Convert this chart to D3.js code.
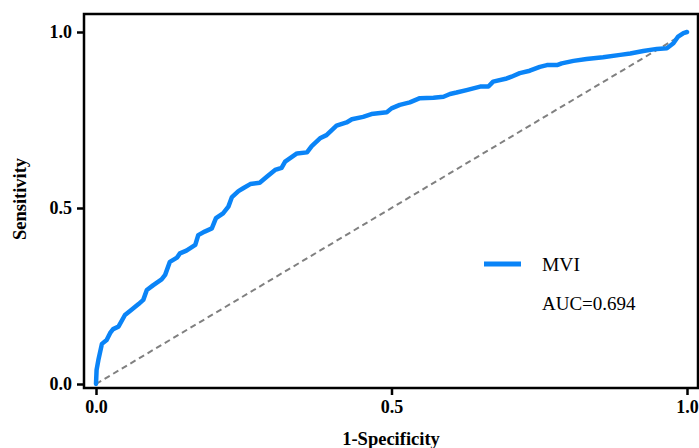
<!DOCTYPE html>
<html>
<head>
<meta charset="utf-8">
<script src="https://cdn.jsdelivr.net/npm/d3@7"></script>
<style>
  body { margin: 0; background: #fff; }
  svg { display: block; font-family: "Times New Roman", "Liberation Serif", serif; }
  .tick line { stroke: #000; stroke-width: 2.5; }
</style>
</head>
<body>
<script>
// ROC curve points (1-specificity, sensitivity)
var fpr = [0, 0.001, 0.004, 0.010, 0.018, 0.024, 0.029, 0.038, 0.049, 0.058,
    0.072, 0.080, 0.086, 0.097, 0.111, 0.117, 0.125, 0.137, 0.142, 0.153,
    0.168, 0.173, 0.184, 0.196, 0.203, 0.215, 0.224, 0.230, 0.241, 0.249,
    0.261, 0.277, 0.289, 0.303, 0.314, 0.320, 0.340, 0.357, 0.365, 0.379,
    0.390, 0.407, 0.424, 0.433, 0.452, 0.466, 0.492, 0.500, 0.514, 0.531,
    0.548, 0.571, 0.588, 0.599, 0.610, 0.627, 0.650, 0.664, 0.672, 0.695,
    0.703, 0.717, 0.734, 0.751, 0.763, 0.780, 0.788, 0.808, 0.830, 0.858,
    0.887, 0.904, 0.926, 0.949, 0.966, 0.977, 0.985, 0.994, 1];
var tpr = [0, 0.040, 0.068, 0.114, 0.125, 0.145, 0.156, 0.163, 0.196, 0.208,
    0.227, 0.239, 0.267, 0.281, 0.297, 0.310, 0.347, 0.359, 0.371, 0.379,
    0.395, 0.423, 0.433, 0.442, 0.471, 0.485, 0.504, 0.531, 0.548, 0.556,
    0.568, 0.572, 0.589, 0.608, 0.614, 0.632, 0.655, 0.658, 0.676, 0.698,
    0.707, 0.734, 0.743, 0.752, 0.759, 0.767, 0.772, 0.783, 0.793, 0.800,
    0.812, 0.813, 0.816, 0.824, 0.828, 0.835, 0.845, 0.845, 0.859, 0.868,
    0.873, 0.883, 0.890, 0.901, 0.906, 0.906, 0.911, 0.918, 0.923, 0.928,
    0.935, 0.939, 0.946, 0.952, 0.954, 0.968, 0.987, 0.997, 1];
var tickValues = [0, 0.5, 1];
var seriesName = "MVI";
var aucText = "AUC=0.694";

var width = 699, height = 448;
var serif = "'Times New Roman', 'Liberation Serif', serif";

var svg = d3.select("body")
    .append("svg")
    .attr("width", width)
    .attr("height", height);

//scales: data 0..1 sits inside a slightly larger frame
var xScale = d3.scaleLinear().domain([0, 1]).range([96, 687]);
var yScale = d3.scaleLinear().domain([0, 1]).range([384, 32]);
var frame = { left: 84, right: 698, top: 14, bottom: 388 };

//axes with ticks only, frame drawn as a box
var xAxis = svg.append("g")
    .attr("transform", "translate(0," + frame.bottom + ")")
    .call(d3.axisBottom(xScale).tickValues(tickValues).tickFormat(d3.format(".1f"))
        .tickSize(7).tickPadding(5));
xAxis.select(".domain").remove();

var yAxis = svg.append("g")
    .attr("transform", "translate(" + frame.left + ",0)")
    .call(d3.axisLeft(yScale).tickValues(tickValues).tickFormat(d3.format(".1f"))
        .tickSize(7).tickPadding(5));
yAxis.select(".domain").remove();

svg.selectAll(".tick text")
    .style("font-family", serif)
    .style("font-weight", "bold")
    .style("font-size", "18px")
    .style("fill", "#000");

svg.append("rect")
    .attr("x", frame.left)
    .attr("y", frame.top)
    .attr("width", frame.right - frame.left)
    .attr("height", frame.bottom - frame.top)
    .attr("fill", "none")
    .attr("stroke", "#000")
    .attr("stroke-width", 2.5);

//reference diagonal
svg.append("line")
    .attr("x1", xScale(0)).attr("y1", yScale(0))
    .attr("x2", xScale(1)).attr("y2", yScale(1))
    .attr("stroke", "#808080")
    .attr("stroke-width", 2)
    .attr("stroke-dasharray", "6,4");

//roc curve
var points = fpr.map(function (d, i) { return [d, tpr[i]]; });
var line = d3.line()
    .x(function (d) { return xScale(d[0]); })
    .y(function (d) { return yScale(d[1]); });

svg.append("path")
    .datum(points)
    .attr("d", line)
    .attr("fill", "none")
    .attr("stroke", "#0a84f7")
    .attr("stroke-width", 4.5)
    .attr("stroke-linejoin", "round")
    .attr("stroke-linecap", "round");

//legend
svg.append("line")
    .attr("x1", 484).attr("x2", 521)
    .attr("y1", 264).attr("y2", 264)
    .attr("stroke", "#0a84f7")
    .attr("stroke-width", 5);

svg.append("text")
    .attr("x", 542).attr("y", 271)
    .attr("font-size", 19.5)
    .text(seriesName);

svg.append("text")
    .attr("x", 542).attr("y", 310)
    .attr("font-size", 19)
    .text(aucText);

//axis titles
svg.append("text")
    .attr("x", 391).attr("y", 445)
    .attr("text-anchor", "middle")
    .attr("font-size", 18.5)
    .attr("font-weight", "bold")
    .text("1-Specificity");

svg.append("text")
    .attr("transform", "translate(26,199) rotate(-90)")
    .attr("text-anchor", "middle")
    .attr("font-size", 18.5)
    .attr("font-weight", "bold")
    .text("Sensitivity");
</script>
</body>
</html>
